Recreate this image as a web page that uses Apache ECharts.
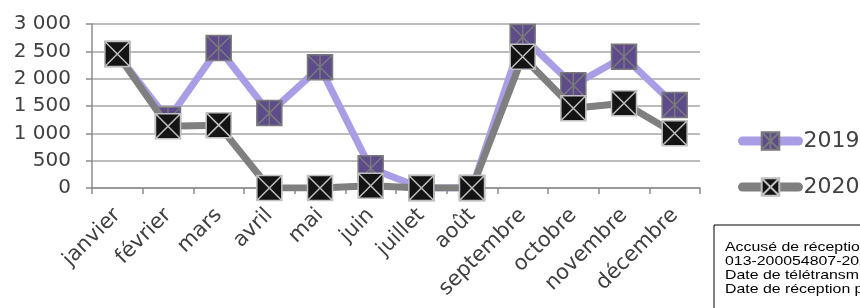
<!DOCTYPE html>
<html>
<head>
<meta charset="utf-8">
<script src="https://cdn.jsdelivr.net/npm/echarts@6/dist/echarts.min.js"></script>
<style>
  html, body { margin: 0; padding: 0; background: #fff; }
  #chart { width: 860px; height: 308px; }
</style>
</head>
<body>
<div id="chart"></div>
<script>
// months and values
const months = ['janvier', 'février', 'mars', 'avril', 'mai', 'juin', 'juillet', 'août', 'septembre', 'octobre', 'novembre', 'décembre']
const values2019 = [2450, 1250, 2560, 1370, 2210, 360, 0, 0, 2760, 1880, 2400, 1520]
const values2020 = [2450, 1130, 1150, 0, 0, 40, 0, 0, 2400, 1460, 1550, 1000]
const stampLines = [
  'Accusé de réception en préfecture',
  '013-200054807-20210000-DE',
  'Date de télétransmission : ',
  'Date de réception préfecture : '
]

// square with X (2020) / square with X and bar (2019)
const crossBox = 'path://M0,0L10,0L10,10L0,10Z M0,0L10,10 M10,0L0,10'
const starBox = 'path://M0,0L10,0L10,10L0,10Z M0,0L10,10 M10,0L0,10 M5,0L5,10'

const chart = echarts.init(document.getElementById('chart'))

const fmt = v => v >= 1000 ? Math.floor(v / 1000) + ' ' + String(v % 1000).padStart(3, '0') : String(v)

const option = {
  animation: false,
  textStyle: { fontFamily: '"DejaVu Sans", sans-serif' },
  grid: { left: 92, right: 160, top: 24, bottom: 120 },
  legend: {
    orient: 'vertical',
    left: 738,
    top: 130,
    padding: 0,
    itemGap: 24,
    itemWidth: 56,
    itemHeight: 22,
    lineStyle: { width: 9, cap: 'round' },
    textStyle: { fontSize: 22, color: '#404040' },
    data: ['2019', '2020']
  },
  xAxis: {
    type: 'category',
    data: months,
    boundaryGap: true,
    axisLine: { lineStyle: { color: '#8c8c8c', width: 1.5 } },
    axisTick: { show: true, length: 6, lineStyle: { color: '#8c8c8c', width: 1.5 } },
    axisLabel: { rotate: 45, fontSize: 21, color: '#404040', margin: 24, interval: 0 }
  },
  yAxis: {
    type: 'value',
    min: 0,
    max: 3000,
    interval: 500,
    axisLine: { show: true, lineStyle: { color: '#8c8c8c', width: 1.5 } },
    axisTick: { show: true, length: 6, lineStyle: { color: '#8c8c8c', width: 1.5 } },
    splitLine: { lineStyle: { color: '#a6a6a6', width: 1.5 } },
    axisLabel: { fontSize: 20, color: '#404040', margin: 21, formatter: fmt }
  },
  series: [
    {
      name: '2019',
      type: 'line',
      data: values2019,
      symbol: starBox,
      symbolSize: 25,
      lineStyle: { color: '#a99ee6', width: 7 },
      itemStyle: { color: '#5e4b8b', borderColor: '#7a7a7a', borderWidth: 1.5 },
      z: 2
    },
    {
      name: '2020',
      type: 'line',
      data: values2020,
      symbol: crossBox,
      symbolSize: 25,
      lineStyle: { color: '#7f7f7f', width: 7 },
      itemStyle: { color: '#141414', borderColor: '#c0c0c0', borderWidth: 1.5 },
      z: 3
    }
  ],
  graphic: [
    {
      type: 'rect',
      x: 714,
      y: 225,
      shape: { width: 200, height: 100 },
      style: { fill: '#fff', stroke: '#000', lineWidth: 1 }
    },
    {
      type: 'text',
      x: 725,
      y: 240,
      scaleX: 1.22,
      style: {
        text: stampLines.join('\n'),
        font: '13px "Liberation Sans", Arial, sans-serif',
        lineHeight: 14,
        fill: '#000'
      }
    }
  ]
}

chart.setOption(option)
</script>
</body>
</html>
